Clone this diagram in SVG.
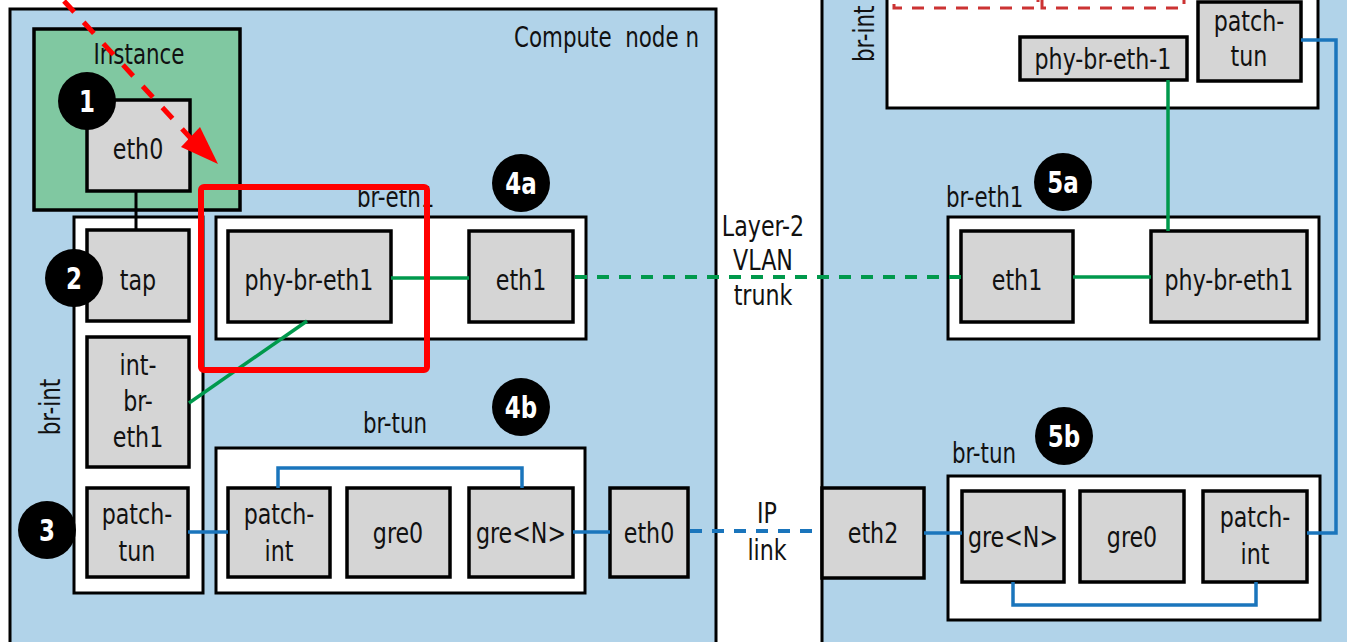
<svg xmlns="http://www.w3.org/2000/svg" width="1347" height="642" viewBox="0 0 1347 642">
  <defs>
    <style>
      .panel { fill: #b1d3e9; stroke: #000; stroke-width: 3; }
      .bridge { fill: #fff; stroke: #000; stroke-width: 3; }
      .port { fill: #d5d5d5; stroke: #000; stroke-width: 3.5; }
      .vm { fill: #80c8a1; stroke: #000; stroke-width: 3.5; }
      text { font-family: "DejaVu Sans Condensed", "Liberation Sans", sans-serif; font-stretch: condensed; fill: #111; }
      .lbl { font-size: 29px; text-anchor: middle; }
      .title { font-size: 28px; }
      .mid { text-anchor: middle; }
      .badge circle { fill: #000; }
      .badge text { fill: #fff; font-weight: bold; font-size: 30px; text-anchor: middle; }
      .green { stroke: #00994c; stroke-width: 3.5; fill: none; }
      .blue { stroke: #1a75bc; stroke-width: 3.5; fill: none; }
      .dash-g { stroke: #00994c; stroke-width: 4; stroke-dasharray: 12 10; fill: none; }
      .dash-b { stroke: #1a75bc; stroke-width: 4; stroke-dasharray: 12 10; fill: none; }
      .dash-r { fill: none; stroke: #cc3333; stroke-width: 3; stroke-dasharray: 12 10; }
    </style>
  </defs>

  <!-- compute hosts -->
  <g id="compute-node-n">
    <rect class="panel" x="10" y="9" width="706" height="650"/>
    <text class="title" transform="translate(514,47) scale(.85,1)" xml:space="preserve">Compute  node n</text>
  </g>
  <g id="remote-node">
    <rect class="panel" x="822" y="-20" width="560" height="680"/>
  </g>

  <!-- left host: instance -->
  <g id="instance">
    <rect class="vm" x="34" y="29" width="206" height="181"/>
    <text class="title mid" transform="translate(139,64) scale(.85,1)">Instance</text>
  </g>
  <g id="vm-eth0">
    <rect class="port" x="87" y="100" width="103" height="91"/>
    <text class="lbl" transform="translate(138,159) scale(.85,1)">eth0</text>
  </g>

  <!-- left host: br-int -->
  <g id="br-int-left">
    <rect class="bridge" x="74" y="217" width="129" height="376"/>
    <text class="title mid" transform="translate(60,407) rotate(-90) scale(.85,1)">br-int</text>
  </g>
  <g id="tap">
    <rect class="port" x="87" y="230" width="102" height="91"/>
    <text class="lbl" transform="translate(138,290) scale(.85,1)">tap</text>
  </g>
  <g id="int-br-eth1">
    <rect class="port" x="87" y="337" width="102" height="130"/>
    <text class="lbl" transform="translate(138,375) scale(.85,1)">int-<tspan x="0" dy="36">br-</tspan><tspan x="0" dy="36">eth1</tspan></text>
  </g>
  <g id="patch-tun-left">
    <rect class="port" x="87" y="488" width="101" height="89"/>
    <text class="lbl" transform="translate(137,524) scale(.85,1)">patch-<tspan x="0" dy="37">tun</tspan></text>
  </g>

  <!-- left host: br-eth1 -->
  <g id="br-eth1-left">
    <rect class="bridge" x="216" y="217" width="370" height="122"/>
    <text class="title" transform="translate(357,207) scale(.85,1)">br-eth1</text>
  </g>
  <g id="phy-br-eth1-left">
    <rect class="port" x="228" y="231" width="163" height="91"/>
    <text class="lbl" transform="translate(309,290) scale(.85,1)">phy-br-eth1</text>
  </g>
  <g id="eth1-left">
    <rect class="port" x="469" y="231" width="104" height="91"/>
    <text class="lbl" transform="translate(521,290) scale(.85,1)">eth1</text>
  </g>

  <!-- left host: br-tun -->
  <g id="br-tun-left">
    <rect class="bridge" x="216" y="448" width="369" height="145"/>
    <text class="title" transform="translate(363,433) scale(.85,1)">br-tun</text>
  </g>
  <g id="patch-int-left">
    <rect class="port" x="228" y="488" width="102" height="89"/>
    <text class="lbl" transform="translate(279,524) scale(.85,1)">patch-<tspan x="0" dy="37">int</tspan></text>
  </g>
  <g id="gre0-left">
    <rect class="port" x="347" y="488" width="103" height="89"/>
    <text class="lbl" transform="translate(398,543) scale(.85,1)">gre0</text>
  </g>
  <g id="greN-left">
    <rect class="port" x="469" y="488" width="104" height="89"/>
    <text class="lbl" transform="translate(521,543) scale(.85,1)">gre&lt;N&gt;</text>
  </g>
  <g id="eth0-left">
    <rect class="port" x="610" y="488" width="78" height="89"/>
    <text class="lbl" transform="translate(649,543) scale(.85,1)">eth0</text>
  </g>

  <!-- link captions between hosts -->
  <g id="vlan-trunk-label">
    <text class="lbl" transform="translate(763,236) scale(.85,1)">Layer-2<tspan x="0" dy="34">VLAN</tspan><tspan x="0" dy="35">trunk</tspan></text>
  </g>
  <g id="ip-link-label">
    <text class="lbl" transform="translate(767,523) scale(.85,1)">IP<tspan x="0" dy="37">link</tspan></text>
  </g>

  <!-- right host: br-int -->
  <g id="br-int-right">
    <rect class="bridge" x="887" y="-20" width="431" height="128"/>
    <text class="title" transform="translate(874,62) rotate(-90) scale(.85,1)">br-int</text>
    <rect class="dash-r" x="894" y="-20" width="144" height="28"/>
    <rect class="dash-r" x="1042" y="-20" width="142" height="28"/>
  </g>
  <g id="phy-br-eth-1">
    <rect class="port" x="1020" y="37" width="167" height="43"/>
    <text class="lbl" transform="translate(1103,69) scale(.85,1)">phy-br-eth-1</text>
  </g>
  <g id="patch-tun-right">
    <rect class="port" x="1198" y="2" width="103" height="79"/>
    <text class="lbl" transform="translate(1249,31) scale(.85,1)">patch-<tspan x="0" dy="35">tun</tspan></text>
  </g>

  <!-- right host: br-eth1 -->
  <g id="br-eth1-right">
    <rect class="bridge" x="948" y="217" width="371" height="122"/>
    <text class="title" transform="translate(946,207) scale(.85,1)">br-eth1</text>
  </g>
  <g id="eth1-right">
    <rect class="port" x="961" y="231" width="112" height="91"/>
    <text class="lbl" transform="translate(1017,290) scale(.85,1)">eth1</text>
  </g>
  <g id="phy-br-eth1-right">
    <rect class="port" x="1151" y="231" width="156" height="91"/>
    <text class="lbl" transform="translate(1229,290) scale(.85,1)">phy-br-eth1</text>
  </g>

  <!-- right host: br-tun -->
  <g id="br-tun-right">
    <rect class="bridge" x="948" y="476" width="372" height="144"/>
    <text class="title" transform="translate(952,463) scale(.85,1)">br-tun</text>
  </g>
  <g id="eth2">
    <rect class="port" x="822" y="488" width="102" height="90"/>
    <text class="lbl" transform="translate(873,543) scale(.85,1)">eth2</text>
  </g>
  <g id="greN-right">
    <rect class="port" x="962" y="491" width="102" height="91"/>
    <text class="lbl" transform="translate(1013,547) scale(.85,1)">gre&lt;N&gt;</text>
  </g>
  <g id="gre0-right">
    <rect class="port" x="1080" y="491" width="104" height="91"/>
    <text class="lbl" transform="translate(1132,547) scale(.85,1)">gre0</text>
  </g>
  <g id="patch-int-right">
    <rect class="port" x="1203" y="491" width="104" height="91"/>
    <text class="lbl" transform="translate(1255,527) scale(.85,1)">patch-<tspan x="0" dy="37">int</tspan></text>
  </g>

  <!-- connectors -->
  <g id="connectors">
    <line x1="136" y1="191" x2="136" y2="230" stroke="#000" stroke-width="3"/>
    <line class="green" x1="391" y1="278" x2="469" y2="278"/>
    <line class="green" x1="307" y1="321" x2="189" y2="403"/>
    <line class="dash-g" x1="575" y1="277" x2="961" y2="277"/>
    <line class="green" x1="1073" y1="277" x2="1151" y2="277"/>
    <line class="green" x1="1168" y1="80" x2="1168" y2="231"/>
    <line class="blue" x1="188" y1="532" x2="228" y2="532"/>
    <polyline class="blue" points="278,488 278,468 522,468 522,488"/>
    <line class="blue" x1="573" y1="532" x2="610" y2="532"/>
    <line class="dash-b" x1="690" y1="531" x2="822" y2="531"/>
    <line class="blue" x1="924" y1="533" x2="962" y2="533"/>
    <polyline class="blue" points="1013,582 1013,605 1256,605 1256,582"/>
    <polyline class="blue" points="1301,40 1336,40 1336,533 1307,533"/>
  </g>

  <!-- step badges -->
  <g id="badge-1" class="badge"><circle cx="87" cy="101" r="29"/><text transform="translate(87,112) scale(.85,1)">1</text></g>
  <g id="badge-2" class="badge"><circle cx="74" cy="278" r="29"/><text transform="translate(74,289) scale(.85,1)">2</text></g>
  <g id="badge-3" class="badge"><circle cx="47" cy="530" r="29"/><text transform="translate(47,541) scale(.85,1)">3</text></g>
  <g id="badge-4a" class="badge"><circle cx="521" cy="183" r="29"/><text transform="translate(521,194) scale(.85,1)">4a</text></g>
  <g id="badge-4b" class="badge"><circle cx="521" cy="407" r="29"/><text transform="translate(521,418) scale(.85,1)">4b</text></g>
  <g id="badge-5a" class="badge"><circle cx="1063" cy="182" r="29"/><text transform="translate(1063,193) scale(.85,1)">5a</text></g>
  <g id="badge-5b" class="badge"><circle cx="1064" cy="436" r="29"/><text transform="translate(1064,447) scale(.85,1)">5b</text></g>

  <!-- highlighted path -->
  <g id="highlight">
    <rect x="201" y="187" width="226" height="183" rx="3" fill="none" stroke="#ff0000" stroke-width="6"/>
    <line x1="64" y1="1" x2="196" y2="144" stroke="#ff0000" stroke-width="5" stroke-dasharray="15 14"/>
    <path d="M181,147 L200,127 L218,164 z" fill="#ff0000"/>
  </g>
</svg>
